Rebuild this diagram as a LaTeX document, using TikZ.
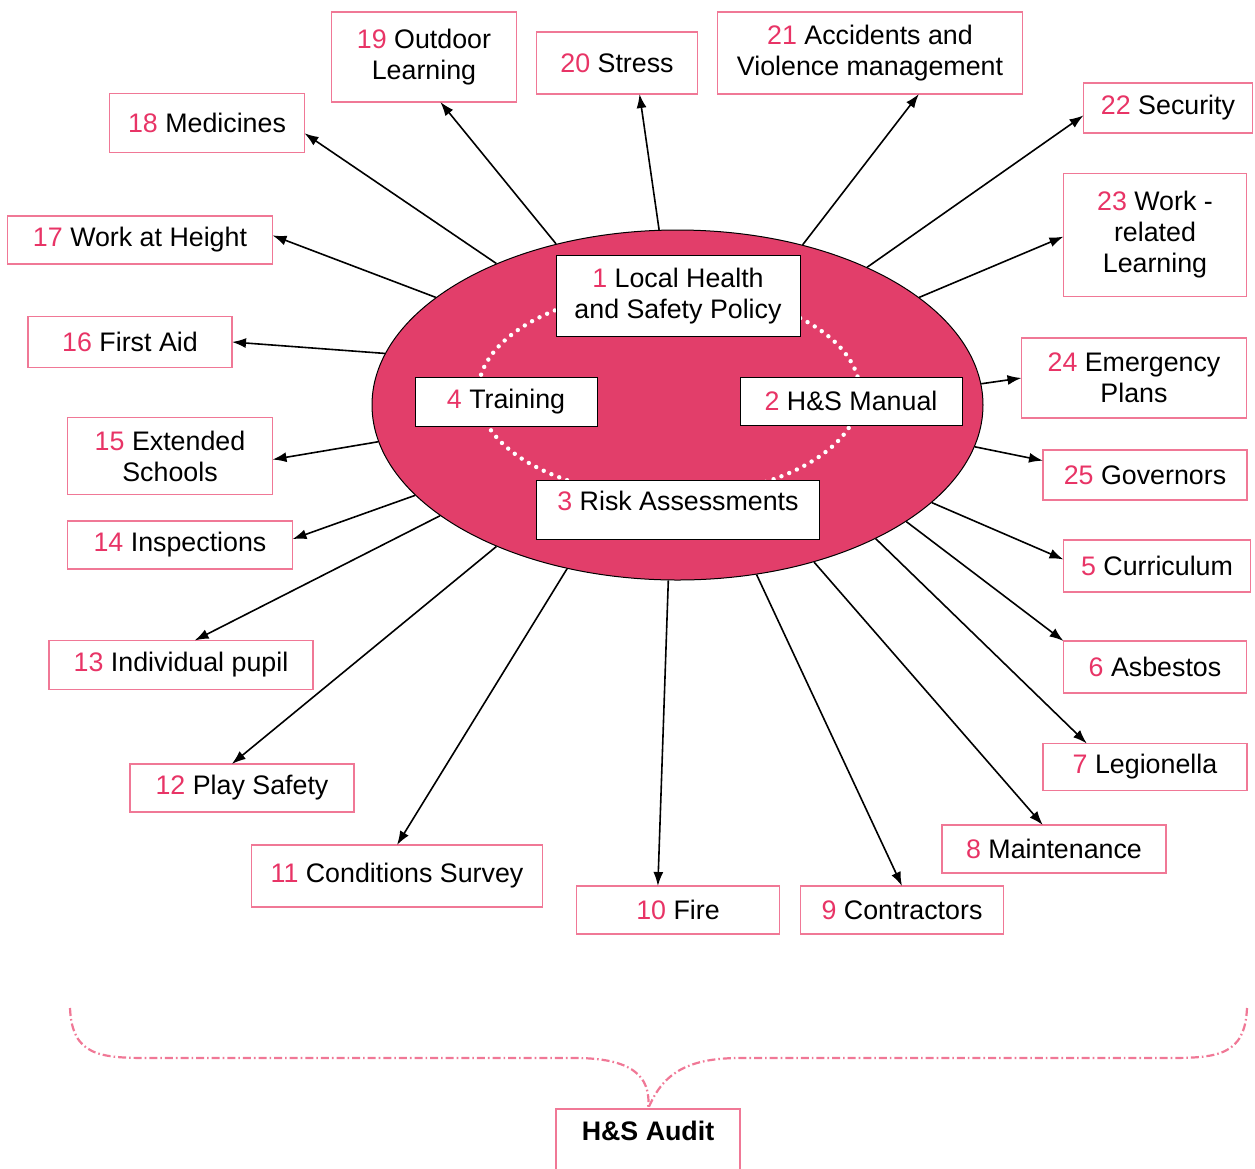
\documentclass[tikz,border=0pt]{standalone}
\usepackage{fontspec}
\setmainfont{Liberation Sans}
\usetikzlibrary{shapes.geometric,arrows.meta}
\definecolor{hsred}{RGB}{232,52,102}
\definecolor{hsfill}{RGB}{226,62,106}
\definecolor{hsline}{RGB}{240,120,150}
\newcommand{\hsnum}[1]{\textcolor{hsred}{#1}}

\begin{document}
\begin{tikzpicture}[x=0.5pt,y=-0.5pt,
    outbox/.style={rectangle,draw=hsline,line width=0.7pt,fill=white,align=center,inner sep=2pt,outer sep=0pt,font=\fontsize{13.4}{15.5}\selectfont},
    inbox/.style={rectangle,draw=black,line width=0.5pt,fill=white,align=center,inner sep=2pt,outer sep=0pt,font=\fontsize{13.4}{15.5}\selectfont},
    arr/.style={-{Latex[length=7pt,width=5pt]},line width=0.8pt},
    brace/.style={draw=hsline,line width=1.1pt,dash pattern=on 4pt off 1.5pt on 0.8pt off 1.5pt}]
        \useasboundingbox (0,0) rectangle (1255,1169);

        % centre ellipse with the four core items
        \node[ellipse,draw=black,line width=0.5pt,fill=hsfill,minimum width=305.5pt,minimum height=175pt,inner sep=0pt] (ell) at (677.5,405) {};
        \draw[white,line width=2.2pt,line cap=round,dash pattern=on 0pt off 4.2pt] (669,393) ellipse [x radius=95.5pt,y radius=51.5pt];

        \node[inbox,minimum width=122pt,minimum height=40.5pt] (b1) at (678,296) {\hsnum{1} Local Health\\and Safety Policy};
        \node[inbox,minimum width=111pt,minimum height=24pt] (b2) at (851,401) {\hsnum{2} H\&S Manual};
        \node[inbox,anchor=north,minimum width=141.5pt,text depth=9pt,inner ysep=5.5pt] (b3) at (678,480) {\hsnum{3} Risk Assessments};
        \node[inbox,minimum width=91pt,minimum height=24.5pt] (b4) at (506,402) {\hsnum{4} Training};

        % outer items
        \node[outbox,minimum width=93.5pt,minimum height=26pt] (b5) at (1157,566) {\hsnum{5} Curriculum};
        \node[outbox,minimum width=91.5pt,minimum height=26pt] (b6) at (1155,667) {\hsnum{6} Asbestos};
        \node[outbox,minimum width=102pt,minimum height=23.5pt] (b7) at (1145,767) {\hsnum{7} Legionella};
        \node[outbox,minimum width=112pt,minimum height=24pt] (b8) at (1054,849) {\hsnum{8} Maintenance};
        \node[outbox,minimum width=101.5pt,minimum height=24pt] (b9) at (902,910) {\hsnum{9} Contractors};
        \node[outbox,minimum width=101.5pt,minimum height=24pt] (b10) at (678,910) {\hsnum{10} Fire};
        \node[outbox,minimum width=145.5pt,minimum height=31pt] (b11) at (397,876) {\hsnum{11} Conditions Survey};
        \node[outbox,minimum width=112pt,minimum height=24pt] (b12) at (242,788) {\hsnum{12} Play Safety};
        \node[outbox,minimum width=132pt,minimum height=24.5pt] (b13) at (181,665) {\hsnum{13} Individual pupil};
        \node[outbox,minimum width=112.5pt,minimum height=24pt] (b14) at (180,545) {\hsnum{14} Inspections};
        \node[outbox,minimum width=102.5pt,minimum height=38.5pt] (b15) at (170,456) {\hsnum{15} Extended\\Schools};
        \node[outbox,minimum width=102pt,minimum height=25.5pt] (b16) at (130,342) {\hsnum{16} First Aid};
        \node[outbox,minimum width=132.5pt,minimum height=24pt] (b17) at (140,240) {\hsnum{17} Work at Height};
        \node[outbox,minimum width=97.5pt,minimum height=29.5pt] (b18) at (207,123) {\hsnum{18} Medicines};
        \node[outbox,minimum width=92.5pt,minimum height=45pt] (b19) at (424,57) {\hsnum{19} Outdoor\\Learning};
        \node[outbox,minimum width=80.5pt,minimum height=31pt] (b20) at (617,63) {\hsnum{20} Stress};
        \node[outbox,minimum width=152.5pt,minimum height=41pt] (b21) at (870,53) {\hsnum{21} Accidents and\\Violence management};
        \node[outbox,minimum width=84.5pt,minimum height=25pt] (b22) at (1168,108) {\hsnum{22} Security};
        \node[outbox,minimum width=91.5pt,minimum height=61.5pt] (b23) at (1155,235) {\hsnum{23} Work -\\related\\Learning};
        \node[outbox,minimum width=112.5pt,minimum height=40pt] (b24) at (1134,378) {\hsnum{24} Emergency\\Plans};
        \node[outbox,minimum width=102pt,minimum height=25pt] (b25) at (1145,475) {\hsnum{25} Governors};

        % arrows out of the ellipse
        \draw[arr] (ell.339.6) -- (b5.176);
        \draw[arr] (ell.333.7) -- (b6.north west);
        \draw[arr] (ell.326.7) -- (b7.158);
        \draw[arr] (ell.311.8) -- (b8.115);
        \draw[arr] (ell.295.9) -- (b9.north);
        \draw[arr] (ell.267.5) -- (b10.130);
        \draw[arr] (ell.236.8) -- (b11.north);
        \draw[arr] (ell.218) -- (b12.113);
        \draw[arr] (ell.205.4) -- (b13.61);
        \draw[arr] (ell.199.1) -- (b14.3);
        \draw[arr] (ell.187.1) -- (b15.358);
        \draw[arr] (ell.170.9) -- (b16.east);
        \draw[arr] (ell.156.5) -- (b17.2);
        \draw[arr] (ell.142) -- (b18.354);
        \draw[arr] (ell.127.5) -- (b19.290);
        \draw[arr] (ell.96.7) -- (b20.306);
        \draw[arr] (ell.52) -- (b21.320);
        \draw[arr] (ell.36) -- (b22.185);
        \draw[arr] (ell.24.4) -- (b23.181);
        \draw[arr] (ell.4.7) -- (b24.west);
        \draw[arr] (ell.352) -- (b25.172);

        % audit brace
        \node[outbox,anchor=north,minimum width=92pt,text depth=14pt,inner ysep=6pt] (audit) at (648,1109) {\bfseries H\&S Audit};
        \coordinate (bl) at (70,1008);
        \coordinate (br) at (1247,1008);
        \draw[brace] (bl) .. controls (72,1056) and (100,1058) .. (150,1058) -- (575,1058)
            .. controls (630,1058) and (652,1075) .. (audit.north);
        \draw[brace] (br) .. controls (1245,1056) and (1217,1058) .. (1167,1058) -- (740,1058)
            .. controls (685,1058) and (662,1075) .. (audit.north);
    \end{tikzpicture}
\end{document}
